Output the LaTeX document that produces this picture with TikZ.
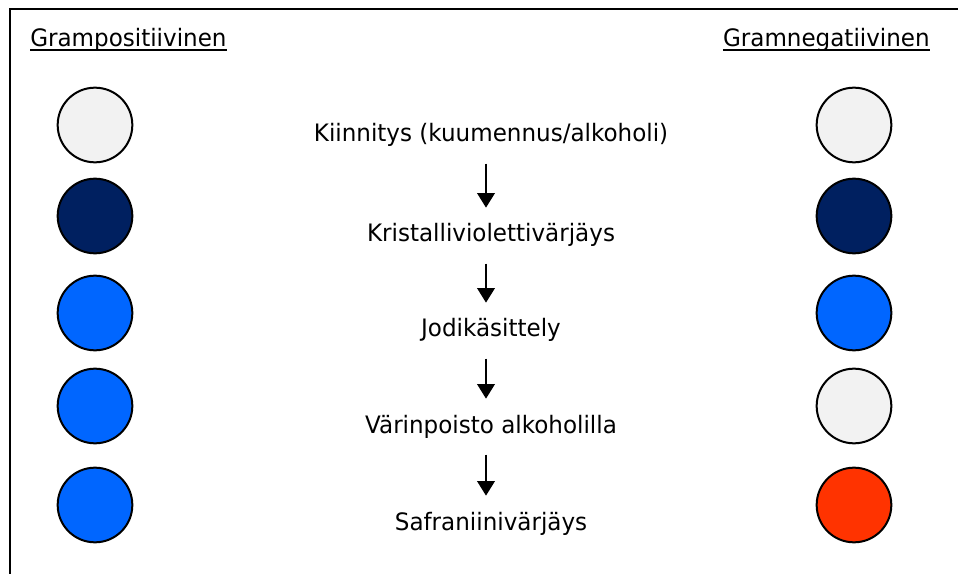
\documentclass[tikz,border=0pt]{standalone}
\usepackage{fontspec}
\setmainfont{DejaVu Sans}[FakeStretch=0.96]
\usetikzlibrary{arrows.meta}

\definecolor{cellgray}{HTML}{F2F2F2}
\definecolor{cellnavy}{HTML}{002060}
\definecolor{cellblue}{HTML}{0066FF}
\definecolor{cellred}{HTML}{FF3300}

\begin{document}
\begin{tikzpicture}[x=0.75pt,y=-0.75pt,
    cell/.style={circle,draw,line width=1.5pt,minimum size=56pt,inner sep=0pt},
    stain/.style={font=\fontsize{18pt}{22pt}\selectfont,inner sep=0pt,text height=13.5pt,text depth=4pt,anchor=base},
    flow/.style={-{Triangle[length=11pt,width=13pt]},line width=2pt,shorten <=12pt,shorten >=12pt}]

    \useasboundingbox (0,0) rectangle (958,574);
    \clip (0,0) rectangle (958,574);
    \draw[line width=1.5pt] (9.5,9.5) rectangle (990,600);

    % otsikot
    \node[stain,anchor=base west] (pos) at (30,47) {Grampositiivinen};
    \node[stain,anchor=base east] (neg) at (930,47) {Gramnegatiivinen};
    \draw[line width=1.5pt] ([yshift=-2pt]pos.base west)--([yshift=-2pt]pos.base east);
    \draw[line width=1.5pt] ([yshift=-2pt]neg.base west)--([yshift=-2pt]neg.base east);

    % vaiheet
    \node[stain] (s1) at (491,142) {Kiinnitys (kuumennus/alkoholi)};
    \node[stain] (s2) at (491,242) {Kristalliviolettivärjäys};
    \node[stain] (s3) at (491,337) {Jodikäsittely};
    \node[stain] (s4) at (491,433) {Värinpoisto alkoholilla};
    \node[stain] (s5) at (491,530) {Safraniinivärjäys};

    \draw[flow]([xshift=-3.75pt]s1.south)--([xshift=-3.75pt]s2.north);
    \draw[flow]([xshift=-3.75pt]s2.south)--([xshift=-3.75pt]s3.north);
    \draw[flow]([xshift=-3.75pt]s3.south)--([xshift=-3.75pt]s4.north);
    \draw[flow]([xshift=-3.75pt]s4.south)--([xshift=-3.75pt]s5.north);

    % grampositiivinen
    \node[cell,fill=cellgray] (p1) at (95,125) {};
    \node[cell,fill=cellnavy] (p2) at (95,216) {};
    \node[cell,fill=cellblue] (p3) at (95,313) {};
    \node[cell,fill=cellblue] (p4) at (95,406) {};
    \node[cell,fill=cellblue] (p5) at (95,505) {};

    % gramnegatiivinen
    \node[cell,fill=cellgray] (n1) at (854,125) {};
    \node[cell,fill=cellnavy] (n2) at (854,216) {};
    \node[cell,fill=cellblue] (n3) at (854,313) {};
    \node[cell,fill=cellgray] (n4) at (854,406) {};
    \node[cell,fill=cellred] (n5) at (854,505) {};

\end{tikzpicture}
\end{document}
